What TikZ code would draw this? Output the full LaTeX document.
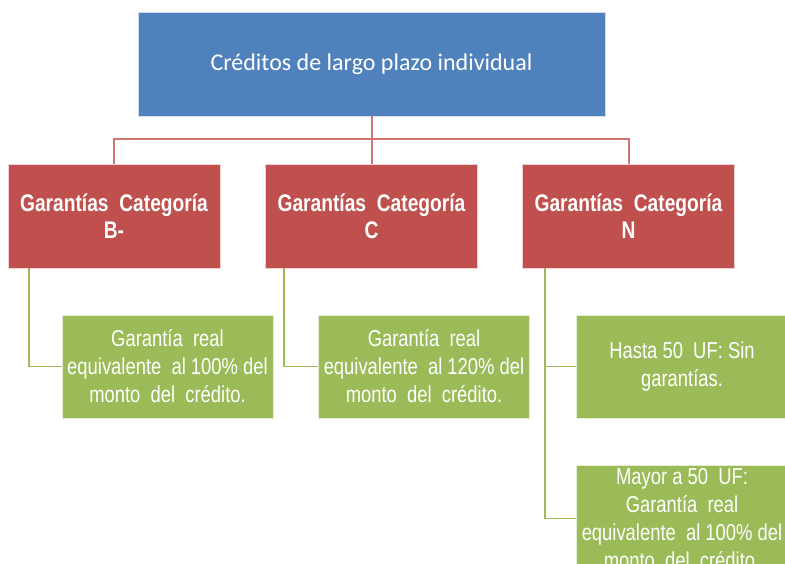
\documentclass[tikz,border=0pt]{standalone}
\usepackage{fontspec}
\setmainfont{Liberation Sans}
\newfontfamily\narrowfont[FakeStretch=0.8]{Liberation Sans}
\newfontfamily\calfont{Carlito}
\definecolor{topblue}{HTML}{4F81BD}
\definecolor{catred}{HTML}{C0504D}
\definecolor{leafgreen}{HTML}{9BBB59}

\begin{document}
\begin{tikzpicture}[x=1pt,y=-1pt,
    topbox/.style={fill=topblue, draw=white!75!topblue, line width=0.8pt, text=white,
        minimum width=467pt, minimum height=104pt, font=\calfont\fontsize{24}{29}\selectfont},
    catbox/.style={fill=catred, draw=white!75!catred, line width=0.8pt, text=white, align=center,
        minimum width=212pt, minimum height=104pt, font=\narrowfont\bfseries\fontsize{24}{27}\selectfont},
    leafbox/.style={fill=leafgreen, draw=white!75!leafgreen, line width=0.8pt, text=white, align=center,
        minimum width=211pt, minimum height=103pt, font=\narrowfont\fontsize{23}{28}\selectfont},
    redline/.style={draw=catred!80!white, line width=2pt},
    greenline/.style={draw=leafgreen, line width=1.8pt}]
    \useasboundingbox (0,0) rectangle (785,563);
    \clip (0,0) rectangle (785,563);

    \node[topbox]  at (371.5,64)  (creditos) {Créditos de largo plazo individual};
    \node[catbox]  at (114,216)   (catB) {Garantías\ \ Categoría\\B-};
    \node[catbox]  at (371.5,216) (catC) {Garantías\ \ Categoría\\C};
    \node[catbox]  at (628.5,216) (catN) {Garantías\ \ Categoría\\N};
    \node[leafbox] at (167.5,366.5) (realB) {Garantía\ \ real\\equivalente\ \ al 100\% del\\monto\ \ del\ \ crédito.};
    \node[leafbox] at (424,366.5)   (realC) {Garantía\ \ real\\equivalente\ \ al 120\% del\\monto\ \ del\ \ crédito.};
    \node[leafbox] at (682,366.5)   (hasta) {Hasta 50\ \ UF: Sin\\garantías.};
    \node[leafbox] at (682,518.5)   (mayor) {Mayor a 50\ \ UF:\\Garantía\ \ real\\equivalente\ \ al 100\% del\\monto\ \ del\ \ crédito.};

    \coordinate (bar) at (371.5,139);

    \draw[redline] (creditos.south) -- (bar);
    \draw[redline] (catB.north) |- (bar);
    \draw[redline] (catN.north) |- (bar);
    \draw[redline] (bar) -- (catC.north);
    \draw[greenline] ([xshift=21pt]catB.south west) |- (realB.west);
    \draw[greenline] ([xshift=19pt]catC.south west) |- (realC.west);
    \draw[greenline] ([xshift=23pt]catN.south west) |- (hasta.west);
    \draw[greenline] ([xshift=23pt]catN.south west) |- (mayor.west);
\end{tikzpicture}
\end{document}
